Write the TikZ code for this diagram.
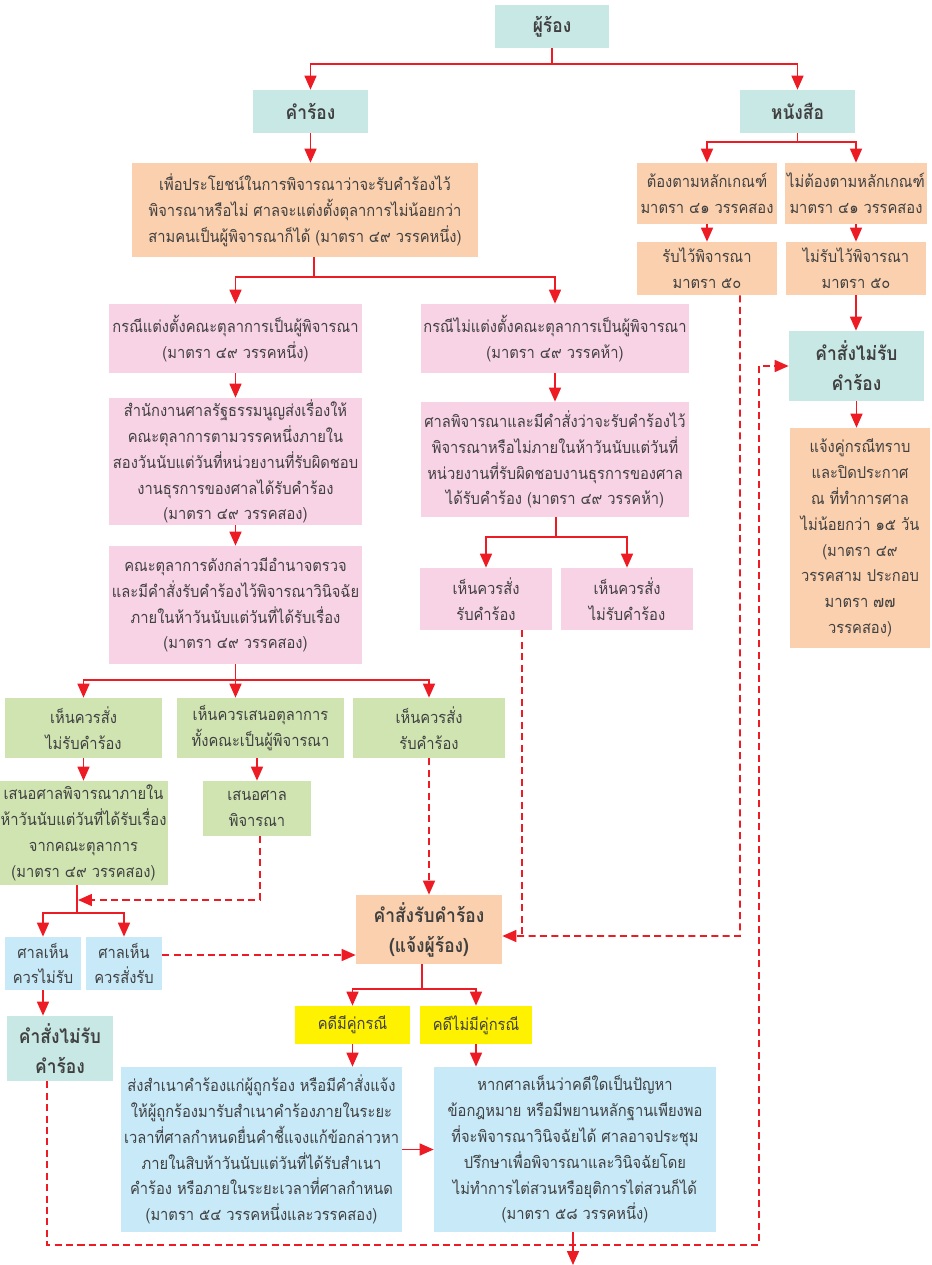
\documentclass[tikz,border=0pt]{standalone}
\usepackage{fontspec}
\newfontfamily\thaifont[Script=Thai, FakeStretch=0.9]{Loma}
\usetikzlibrary{positioning, calc, arrows.meta}
\definecolor{tealbox}{RGB}{200,232,229}
\definecolor{peachbox}{RGB}{251,208,174}
\definecolor{pinkbox}{RGB}{248,211,229}
\definecolor{greenbox}{RGB}{208,228,178}
\definecolor{bluebox}{RGB}{199,233,248}
\definecolor{yellowbox}{RGB}{255,242,0}
\definecolor{redline}{RGB}{237,28,36}
\definecolor{inkgray}{RGB}{64,64,64}

\begin{document}
\begin{tikzpicture}[
  x=0.02cm, y=-0.02cm,
  wh/.style 2 args={minimum width=#1cm, minimum height=#2cm},
  box/.style={rectangle, inner sep=1pt, align=center, text=inkgray, font=\thaifont\fontsize{9.3}{14.7}\selectfont},
  head/.style={box, fill=tealbox, font=\thaifont\bfseries\fontsize{11}{17}\selectfont},
  peach/.style={box, fill=peachbox},
  pink/.style={box, fill=pinkbox},
  green/.style={box, fill=greenbox},
  sky/.style={box, fill=bluebox},
  yellow/.style={box, fill=yellowbox},
  line/.style={line width=0.9pt, redline},
  arrow/.style={line, -{Triangle[length=2.8mm, width=2.4mm]}},
  dashline/.style={line, dash pattern=on 4pt off 2.5pt},
  dasharrow/.style={arrow, dash pattern=on 4pt off 2.5pt}
]
\useasboundingbox (0,0) rectangle (932,1265);

% Top of the chart
\node[head, wh={2.28}{0.86}] (applicant) at (552,26.5) {ผู้ร้อง};
\node[head, wh={2.3}{0.86}] (petition) at (310.5,111.5) {คำร้อง};
\node[head, wh={2.3}{0.86}] (letter) at (797.5,111.5) {หนังสือ};

% Petition branch
\node[peach, wh={6.92}{1.88}] (purpose) at (305,210)
  {เพื่อประโยชน์ในการพิจารณาว่าจะรับคำร้องไว้\\พิจารณาหรือไม่ ศาลจะแต่งตั้งตุลาการไม่น้อยกว่า\\สามคนเป็นผู้พิจารณาก็ได้ (มาตรา ๔๙ วรรคหนึ่ง)};
\node[pink, wh={5.06}{1.38}] (panel) at (235.5,338.5)
  {กรณีแต่งตั้งคณะตุลาการเป็นผู้พิจารณา\\(มาตรา ๔๙ วรรคหนึ่ง)};
\node[pink, wh={5.36}{1.38}] (nopanel) at (555,338.5)
  {กรณีไม่แต่งตั้งคณะตุลาการเป็นผู้พิจารณา\\(มาตรา ๔๙ วรรคห้า)};
\node[pink, wh={5.06}{2.54}] (office) at (235.5,461.5)
  {สำนักงานศาลรัฐธรรมนูญส่งเรื่องให้\\คณะตุลาการตามวรรคหนึ่งภายใน\\สองวันนับแต่วันที่หน่วยงานที่รับผิดชอบ\\งานธุรการของศาลได้รับคำร้อง\\(มาตรา ๔๙ วรรคสอง)};
\node[pink, wh={5.36}{2.3}] (courtcons) at (555,459.5)
  {ศาลพิจารณาและมีคำสั่งว่าจะรับคำร้องไว้\\พิจารณาหรือไม่ภายในห้าวันนับแต่วันที่\\หน่วยงานที่รับผิดชอบงานธุรการของศาล\\ได้รับคำร้อง (มาตรา ๔๙ วรรคห้า)};
\node[pink, wh={5.06}{2.36}] (panelcheck) at (235.5,605)
  {คณะตุลาการดังกล่าวมีอำนาจตรวจ\\และมีคำสั่งรับคำร้องไว้พิจารณาวินิจฉัย\\ภายในห้าวันนับแต่วันที่ได้รับเรื่อง\\(มาตรา ๔๙ วรรคสอง)};
\node[pink, wh={2.64}{1.24}] (pinkaccept) at (486,599) {เห็นควรสั่ง\\รับคำร้อง};
\node[pink, wh={2.64}{1.24}] (pinkreject) at (627,599) {เห็นควรสั่ง\\ไม่รับคำร้อง};

% Panel decisions
\node[green, wh={3.14}{1.2}] (greenreject) at (83.5,728) {เห็นควรสั่ง\\ไม่รับคำร้อง};
\node[green, wh={3.34}{1.2}] (greenpanel) at (260.5,728) {เห็นควรเสนอตุลาการ\\ทั้งคณะเป็นผู้พิจารณา};
\node[green, wh={3.04}{1.2}] (greenaccept) at (429,728) {เห็นควรสั่ง\\รับคำร้อง};
\node[green, wh={3.14}{2.08}] (greensubmit) at (83.5,833)
  {เสนอศาลพิจารณาภายใน\\ห้าวันนับแต่วันที่ได้รับเรื่อง\\จากคณะตุลาการ\\(มาตรา ๔๙ วรรคสอง)};
\node[green, wh={2.16}{1.1}] (greencourt) at (257,808.5) {เสนอศาล\\พิจารณา};
\node[sky, wh={1.52}{1.06}] (bluereject) at (43,963.5) {ศาลเห็น\\ควรไม่รับ};
\node[sky, wh={1.52}{1.06}] (blueaccept) at (124,963.5) {ศาลเห็น\\ควรสั่งรับ};
\node[head, wh={2.12}{1.3}] (rejectleft) at (60,1048.5) {คำสั่งไม่รับ\\คำร้อง};

% Accepted petition
\node[peach, wh={2.92}{1.38}, font=\thaifont\bfseries\fontsize{11}{17}\selectfont] (acceptorder) at (429,929.5)
  {คำสั่งรับคำร้อง\\(แจ้งผู้ร้อง)};
\node[yellow, wh={2.3}{0.76}] (parties) at (352.5,1025) {คดีมีคู่กรณี};
\node[yellow, wh={2.24}{0.76}] (noparties) at (476,1025) {คดีไม่มีคู่กรณี};
\node[sky, wh={5.62}{3.3}] (copy) at (261.5,1149.5)
  {ส่งสำเนาคำร้องแก่ผู้ถูกร้อง หรือมีคำสั่งแจ้ง\\ให้ผู้ถูกร้องมารับสำเนาคำร้องภายในระยะ\\เวลาที่ศาลกำหนดยื่นคำชี้แจงแก้ข้อกล่าวหา\\ภายในสิบห้าวันนับแต่วันที่ได้รับสำเนา\\คำร้อง หรือภายในระยะเวลาที่ศาลกำหนด\\(มาตรา ๕๔ วรรคหนึ่งและวรรคสอง)};
\node[sky, wh={5.64}{3.3}] (decide) at (575,1149.5)
  {หากศาลเห็นว่าคดีใดเป็นปัญหา\\ข้อกฎหมาย หรือมีพยานหลักฐานเพียงพอ\\ที่จะพิจารณาวินิจฉัยได้ ศาลอาจประชุม\\ปรึกษาเพื่อพิจารณาและวินิจฉัยโดย\\ไม่ทำการไต่สวนหรือยุติการไต่สวนก็ได้\\(มาตรา ๕๘ วรรคหนึ่ง)};

% Letter branch
\node[peach, wh={2.8}{1.22}] (follow) at (707,193.5) {ต้องตามหลักเกณฑ์\\มาตรา ๔๑ วรรคสอง};
\node[peach, wh={2.8}{1.22}] (nofollow) at (856,193.5) {ไม่ต้องตามหลักเกณฑ์\\มาตรา ๔๑ วรรคสอง};
\node[peach, wh={2.8}{1.06}] (admit) at (707,268.5) {รับไว้พิจารณา\\มาตรา ๕๐};
\node[peach, wh={2.8}{1.06}] (noadmit) at (856,268.5) {ไม่รับไว้พิจารณา\\มาตรา ๕๐};
\node[head, wh={2.7}{1.4}] (rejectright) at (856.5,366) {คำสั่งไม่รับ\\คำร้อง};
\node[peach, wh={2.8}{4.4}] (notice) at (860,538)
  {แจ้งคู่กรณีทราบ\\และปิดประกาศ\\ณ ที่ทำการศาล\\ไม่น้อยกว่า ๑๕ วัน\\(มาตรา ๔๙\\วรรคสาม ประกอบ\\มาตรา ๗๗\\วรรคสอง)};

% Solid connectors
\coordinate (split1) at (552,64);
\draw[line] (applicant) -- (split1);
\draw[arrow] (split1) -| (petition);
\draw[arrow] (split1) -| (letter);
\draw[arrow] (petition) -- (petition |- purpose.north);
\coordinate (split2) at (314,277);
\draw[line] (purpose.south -| split2) -- (split2);
\draw[arrow] (split2) -| (panel);
\draw[arrow] (split2) -| (nopanel);
\draw[arrow] (panel) -- (office);
\draw[arrow] (office) -- (panelcheck);
\draw[arrow] (nopanel) -- (courtcons);
\coordinate (split3) at (556,537);
\draw[line] (courtcons.south -| split3) -- (split3);
\draw[arrow] (split3) -| (pinkaccept);
\draw[arrow] (split3) -| (pinkreject);
\coordinate (split4) at (235.5,680);
\draw[line] (panelcheck) -- (split4);
\draw[arrow] (split4) -| (greenreject);
\draw[arrow] (split4) -- (split4 |- greenpanel.north);
\draw[arrow] (split4) -| (greenaccept);
\draw[arrow] (greenreject) -- (greensubmit);
\draw[arrow] (greenpanel.south -| greencourt) -- (greencourt);
\coordinate (split5) at (77,913);
\draw[line] (greensubmit.south -| split5) -- (split5);
\draw[arrow] (split5) -| (bluereject);
\draw[arrow] (split5) -| (blueaccept);
\draw[arrow] (bluereject.south) -- (bluereject.south |- rejectleft.north);
\coordinate (split6) at (422,989);
\draw[line] (acceptorder.south -| split6) -- (split6);
\draw[arrow] (split6) -| (parties);
\draw[arrow] (split6) -| (noparties);
\draw[arrow] (parties) -- (parties |- copy.north);
\draw[arrow] (noparties) -- (noparties |- decide.north);
\draw[arrow] (copy) -- (decide);
\coordinate (exit) at (573,1265);
\draw[arrow] (decide.south -| exit) -- (exit);
\coordinate (split7) at (797.5,142);
\draw[line] (letter) -- (split7);
\draw[arrow] (split7) -| (follow);
\draw[arrow] (split7) -| (nofollow);
\draw[arrow] (follow) -- (admit);
\draw[arrow] (nofollow) -- (noadmit);
\draw[arrow] (noadmit) -- (noadmit |- rejectright.north);
\draw[arrow] (rejectright) -- (rejectright |- notice.north);

% Dashed connectors
\coordinate (join1) at (78,900);
\draw[dasharrow] ([xshift=0.06cm]greencourt.south) |- (join1);
\draw[dasharrow] ([yshift=0.17cm]blueaccept.east) -- ([yshift=0.17cm]blueaccept.east -| acceptorder.west);
\draw[dasharrow] (greenaccept) -- (acceptorder);
\coordinate (loop1) at (740,936);
\draw[dasharrow] ([xshift=0.66cm]admit.south) -- (loop1) -- (loop1 -| acceptorder.east);
\draw[dashline] ([xshift=0.72cm]pinkaccept.south) -- ([xshift=0.72cm]pinkaccept.south |- loop1);
\coordinate (loop2) at (759,1245);
\draw[dasharrow] ([xshift=-0.26cm]rejectleft.south) |- (loop2) |- (rejectright.west);

\end{tikzpicture}
\end{document}
